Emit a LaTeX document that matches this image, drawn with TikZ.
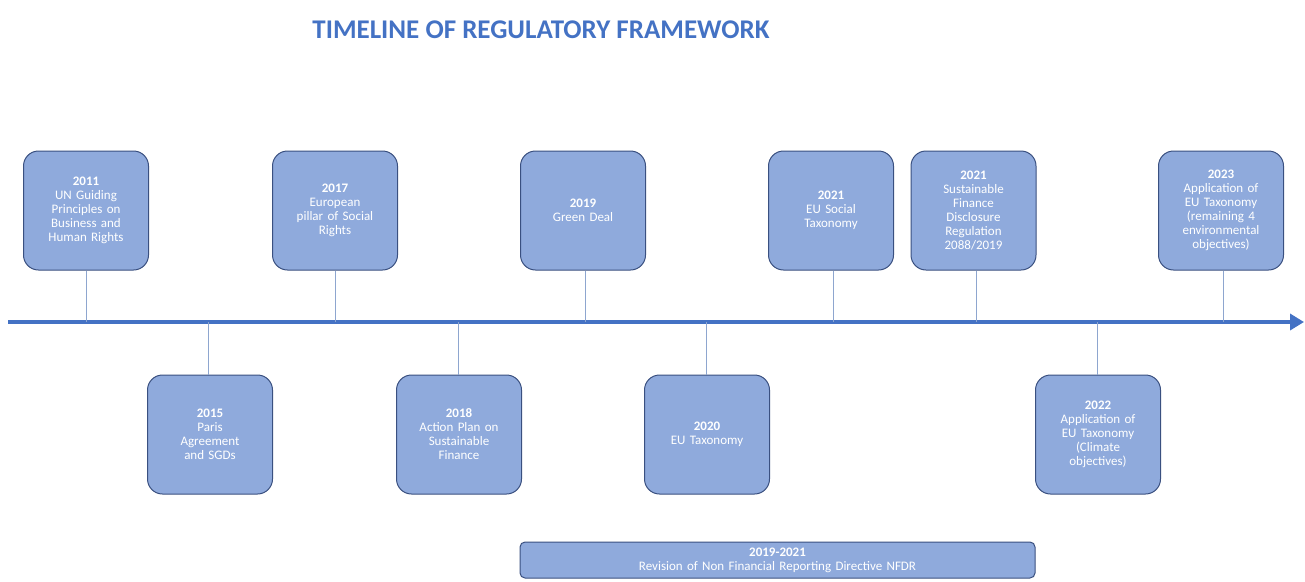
\documentclass[tikz,border=0pt]{standalone}
\usepackage{fontspec}
\setmainfont{Carlito}
\usetikzlibrary{arrows.meta}
\definecolor{axisblue}{HTML}{4472C4}
\definecolor{boxfill}{HTML}{8FAADC}
\definecolor{boxedge}{HTML}{3A5080}
\definecolor{stem}{HTML}{8EA6CF}
\begin{document}
\begin{tikzpicture}[x=1pt,y=-1pt,
  event/.style={draw=boxedge, line width=1pt, fill=boxfill, rounded corners=15pt,
    minimum width=125pt, minimum height=119pt, inner sep=0pt,
    text width=120pt, align=center, text=white,
    font=\fontsize{13}{14}\selectfont},
  stemline/.style={draw=stem, line width=1pt},
  period/.style={draw=boxedge, line width=1pt, fill=boxfill, rounded corners=5pt,
    minimum width=515pt, minimum height=36pt, inner sep=0pt,
    text width=510pt, align=center, text=white,
    font=\fontsize{13}{14}\selectfont}
]
\useasboundingbox (0,0) rectangle (1305,581);

% heading
\node[text=axisblue, font=\fontsize{27}{30}\selectfont\bfseries] (title) at (541,30)
  {TIMELINE OF REGULATORY FRAMEWORK};

% time axis
\coordinate (start) at (8,322);
\coordinate (end) at (1304,322);
\draw[axisblue, line width=4pt, -{Triangle[length=14pt,width=16pt]}] (start) -- (end);

% events above the axis
\node[event] (e2011) at (86,210.5) {\textbf{2011}\\UN Guiding\\Principles on\\Business and\\Human Rights};
\node[event] (e2017) at (335,210.5) {\textbf{2017}\\European\\pillar of Social\\Rights};
\node[event] (e2019) at (583,210.5) {\textbf{2019}\\Green Deal};
\node[event] (e2021a) at (831,210.5) {\textbf{2021}\\EU Social\\Taxonomy};
\node[event] (e2021b) at (973.5,210.5) {\textbf{2021}\\Sustainable\\Finance\\Disclosure\\Regulation\\2088/2019};
\node[event] (e2023) at (1221,210.5) {\textbf{2023}\\Application of\\EU Taxonomy\\(remaining 4\\environmental\\objectives)};

% events below the axis
\node[event] (e2015) at (210,434.5) {\textbf{2015}\\Paris\\Agreement\\and SGDs};
\node[event] (e2018) at (459,434.5) {\textbf{2018}\\Action Plan on\\Sustainable\\Finance};
\node[event] (e2020) at (707,434.5) {\textbf{2020}\\EU Taxonomy};
\node[event] (e2022) at (1098,434.5) {\textbf{2022}\\Application of\\EU Taxonomy\\(Climate\\objectives)};

% points on the axis
\coordinate (t2011) at (86,322);
\coordinate (t2015) at (208,322);
\coordinate (t2017) at (335,322);
\coordinate (t2018) at (458,322);
\coordinate (t2019) at (585,322);
\coordinate (t2020) at (706,322);
\coordinate (t2021a) at (833,322);
\coordinate (t2021b) at (976,322);
\coordinate (t2022) at (1097,322);
\coordinate (t2023) at (1223,322);

% stems
\draw[stemline] (e2011.south -| t2011) -- (t2011);
\draw[stemline] (e2017.south -| t2017) -- (t2017);
\draw[stemline] (e2019.south -| t2019) -- (t2019);
\draw[stemline] (e2021a.south -| t2021a) -- (t2021a);
\draw[stemline] (e2021b.south -| t2021b) -- (t2021b);
\draw[stemline] (e2023.south -| t2023) -- (t2023);
\draw[stemline] (t2015) -- (e2015.north -| t2015);
\draw[stemline] (t2018) -- (e2018.north -| t2018);
\draw[stemline] (t2020) -- (e2020.north -| t2020);
\draw[stemline] (t2022) -- (e2022.north -| t2022);

% revision period
\node[period] (nfdr) at (777.5,560) {\textbf{2019-2021}\\Revision of Non Financial Reporting Directive NFDR};
\end{tikzpicture}
\end{document}
